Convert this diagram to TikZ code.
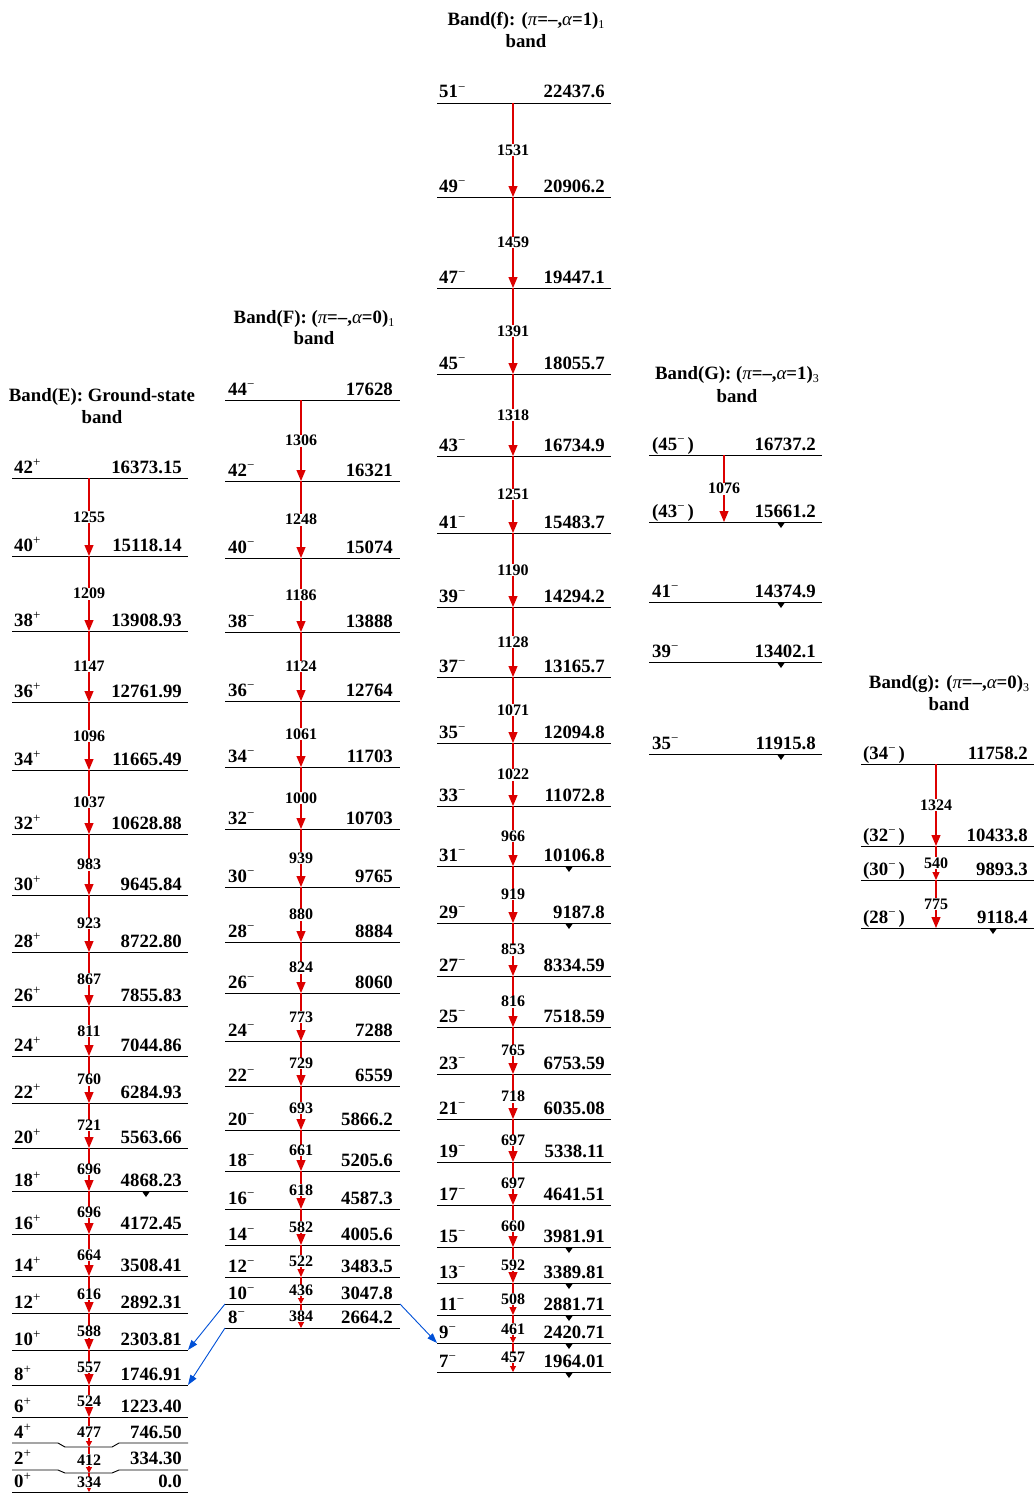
\documentclass[tikz,border=0pt]{standalone}
\usepackage{fontspec}
\setmainfont{Liberation Serif}
\usetikzlibrary{arrows.meta}
\definecolor{gred}{RGB}{220,0,0}
\definecolor{gblue}{RGB}{0,80,215}
\newcommand{\plsup}{\raisebox{6.5pt}{\fontsize{13}{13}\selectfont\mdseries +}}
\newcommand{\mnsup}{\raisebox{6.5pt}{\fontsize{13}{13}\selectfont\mdseries \symbol{"2212}}}
\newcommand{\bsub}[1]{\raisebox{-3pt}{\fontsize{12}{12}\selectfont\mdseries #1}}
\newcommand{\gk}[1]{{\mdseries\itshape #1}}

\begin{document}
\begin{tikzpicture}
[x=1pt,y=-1pt,
lev/.style={line width=0.9pt},
spin/.style={anchor=base west,inner sep=0pt,font=\fontsize{18.8}{20}\selectfont\bfseries},
en/.style={anchor=base east,inner sep=0pt,font=\fontsize{18.8}{20}\selectfont\bfseries},
title/.style={anchor=base,inner sep=0pt,font=\fontsize{18.8}{20}\selectfont\bfseries},
gam/.style={fill=white,text=black,inner sep=0.6pt,font=\fontsize{16}{17}\selectfont\bfseries},
tr/.style={gred,line width=1.1pt,-{Triangle[width=9pt,length=11pt]}},
trm/.style={gred,line width=1.1pt,-{Triangle[width=7pt,length=8pt]}},
trs/.style={gred,line width=1.1pt,-{Triangle[width=6pt,length=6pt]}},
link/.style={gblue,line width=0.9pt,-{Triangle[width=7pt,length=10pt]}}]
\useasboundingbox (0,0) rectangle (1034,1493);

% titles
\node[title] (tE) at (102,401) {Band(E): Ground-state}; \node[title] (tE2) at (102,423) {band};
\node[title] (tF) at (314,323) {Band(F): (\gk{π}=--,\gk{α}=0)\bsub{1}}; \node[title] (tF2) at (314,344) {band};
\node[title] (tf) at (526,26) {Band(f): (\gk{π}=--,\gk{α}=1)\bsub{1}}; \node[title] (tf2) at (526,48) {band};
\node[title] (tG) at (737,379) {Band(G): (\gk{π}=--,\gk{α}=1)\bsub{3}}; \node[title] (tG2) at (737,402) {band};
\node[title] (tg) at (949,688) {Band(g): (\gk{π}=--,\gk{α}=0)\bsub{3}}; \node[title] (tg2) at (949,710) {band};

% band E
\foreach \s/\y/\e in {42/478/16373.15,40/556/15118.14,38/631/13908.93,36/702/12761.99,34/770/11665.49,
  32/834/10628.88,30/895/9645.84,28/952/8722.80,26/1006/7855.83,24/1056/7044.86,22/1103/6284.93,
  20/1148/5563.66,18/1191/4868.23,16/1234/4172.45,14/1276/3508.41,12/1313/2892.31,10/1350/2303.81,
  8/1385/1746.91,6/1417/1223.40,0/1492/0.0}{
  \draw[lev] (12,\y) coordinate (wE\s) -- (188,\y) coordinate (eE\s);
  \coordinate (E\s) at (89,\y);
  \node[spin] (sE\s) at (14,\y-5) {\s\plsup}; \node[en] (nE\s) at (182,\y-5) {\e};}
\draw[lev] (12,1443) coordinate (wE4) -- (58,1443) -- (65,1447) -- (112,1447) -- (119,1443) -- (188,1443) coordinate (eE4);
\coordinate (E4) at (89,1447);
\node[spin] (sE4) at (14,1438) {4\plsup}; \node[en] (nE4) at (182,1438) {746.50};
\draw[lev] (12,1470) coordinate (wE2) -- (58,1470) -- (65,1473) -- (112,1473) -- (119,1470) -- (188,1470) coordinate (eE2);
\coordinate (E2) at (89,1473);
\node[spin] (sE2) at (14,1464) {2\plsup}; \node[en] (nE2) at (182,1464) {334.30};
\foreach \a/\b/\g in {42/40/1255,40/38/1209,38/36/1147,36/34/1096,34/32/1037,32/30/983,30/28/923,
  28/26/867,26/24/811,24/22/760,22/20/721,20/18/696,18/16/696,16/14/664,14/12/616,12/10/588,10/8/557,8/6/524}
  \draw[tr] (E\a) -- node[gam]{\g} (E\b);
\foreach \a/\b/\g in {6/4/477,4/2/412,2/0/334}
  \draw[trs] (E\a) -- node[gam]{\g} (E\b);

% band F
\foreach \s/\y/\e in {44/400/17628,42/481/16321,40/558/15074,38/632/13888,36/701/12764,34/767/11703,
  32/829/10703,30/887/9765,28/942/8884,26/993/8060,24/1041/7288,22/1086/6559,20/1130/5866.2,
  18/1171/5205.6,16/1209/4587.3,14/1245/4005.6,12/1277/3483.5,10/1304/3047.8,8/1328/2664.2}{
  \draw[lev] (225,\y) coordinate (wF\s) -- (400,\y) coordinate (eF\s);
  \coordinate (F\s) at (301,\y);
  \node[spin] (sF\s) at (228,\y-5) {\s\mnsup}; \node[en] (nF\s) at (393,\y-5) {\e};}
\foreach \a/\b/\g in {44/42/1306,42/40/1248,40/38/1186,38/36/1124,36/34/1061,34/32/1000,32/30/939,
  30/28/880,28/26/824,26/24/773,24/22/729,22/20/693,20/18/661,18/16/618,16/14/582}
  \draw[tr] (F\a) -- node[gam]{\g} (F\b);
\draw[trm] (F14) -- node[gam]{522} (F12);
\foreach \a/\b/\g in {12/10/436,10/8/384}
  \draw[trs] (F\a) -- node[gam]{\g} (F\b);

% band f
\foreach \s/\y/\e in {51/103/22437.6,49/197/20906.2,47/288/19447.1,45/374/18055.7,43/456/16734.9,
  41/533/15483.7,39/607/14294.2,37/677/13165.7,35/743/12094.8,33/806/11072.8,31/866/10106.8,
  29/923/9187.8,27/976/8334.59,25/1027/7518.59,23/1074/6753.59,21/1119/6035.08,19/1162/5338.11,
  17/1205/4641.51,15/1247/3981.91,13/1283/3389.81,11/1315/2881.71,9/1343/2420.71,7/1372/1964.01}{
  \draw[lev] (437,\y) coordinate (wf\s) -- (611,\y) coordinate (ef\s);
  \coordinate (f\s) at (513,\y);
  \node[spin] (sf\s) at (439,\y-5) {\s\mnsup}; \node[en] (nf\s) at (605,\y-5) {\e};}
\foreach \a/\b/\g in {51/49/1531,49/47/1459,47/45/1391,45/43/1318,43/41/1251,41/39/1190,39/37/1128,
  37/35/1071,35/33/1022,33/31/966,31/29/919,29/27/853,27/25/816,25/23/765,23/21/718,21/19/697,
  19/17/697,17/15/660,15/13/592}
  \draw[tr] (f\a) -- node[gam]{\g} (f\b);
\draw[trm] (f13) -- node[gam]{508} (f11);
\foreach \a/\b/\g in {11/9/461,9/7/457}
  \draw[trs] (f\a) -- node[gam]{\g} (f\b);

% band G
\foreach \s/\y/\e/\l in {45/455/16737.2/(45\mnsup\,),43/522/15661.2/(43\mnsup\,),
  41/602/14374.9/41\mnsup,39/662/13402.1/39\mnsup,35/754/11915.8/35\mnsup}{
  \draw[lev] (649,\y) coordinate (wG\s) -- (822,\y) coordinate (eG\s);
  \coordinate (G\s) at (724,\y);
  \node[spin] (sG\s) at (652,\y-5) {\l}; \node[en] (nG\s) at (816,\y-5) {\e};}
\draw[tr] (G45) -- node[gam]{1076} (G43);

% band g
\foreach \s/\y/\e in {34/764/11758.2,32/846/10433.8,30/880/9893.3,28/928/9118.4}{
  \draw[lev] (861,\y) coordinate (wg\s) -- (1034,\y) coordinate (eg\s);
  \coordinate (g\s) at (936,\y);
  \node[spin] (sg\s) at (863,\y-5) {(\s\mnsup\,)}; \node[en] (ng\s) at (1028,\y-5) {\e};}
\draw[tr] (g34) -- node[gam]{1324} (g32);
\draw[trm] (g32) -- node[gam]{540} (g30);
\draw[tr] (g30) -- node[gam]{775} (g28);

% links between bands
\draw[link] (wF10) -- (eE10);
\draw[link] (wF8) -- (eE8);
\draw[link] (eF10) -- (wf9);

% decay marks
\foreach \x/\y in {146/1191,569/866,569/923,569/1247,569/1283,569/1315,569/1343,569/1372,
  781/522,781/602,781/662,781/754,993/928}
  \fill ({\x-3.5},{\y+1}) -- ({\x+3.5},{\y+1}) -- (\x,{\y+6}) -- cycle;
\end{tikzpicture}
\end{document}
